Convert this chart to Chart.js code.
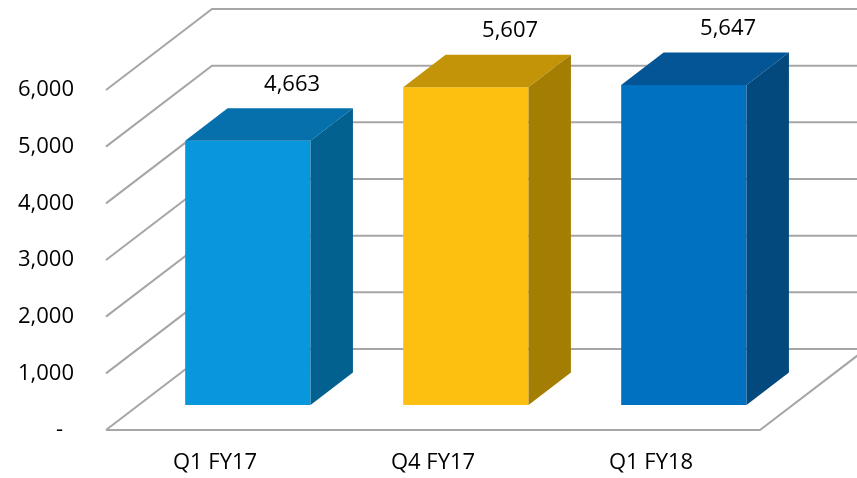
<!DOCTYPE html>
<html>
<head>
<meta charset="utf-8">
<title>Quarterly totals</title>
<script src="https://cdn.jsdelivr.net/npm/chart.js@4.4.1/dist/chart.umd.min.js"></script>
<style>
  html, body { margin: 0; padding: 0; background: #fff; }
  #wrap { width: 857px; height: 478px; position: relative; }
</style>
</head>
<body>
<div id="wrap"><canvas id="myChart"></canvas></div>
<script>
const quarters = ["Q1 FY17", "Q4 FY17", "Q1 FY18"];
const totals = [4663, 5607, 5647];
const yTicks = [0, 1000, 2000, 3000, 4000, 5000, 6000];
const yTickLabels = ["-", "1,000", "2,000", "3,000", "4,000", "5,000", "6,000"];

const frontColors = ["#0896DC", "#FDC010", "#0070C0"];
const topColors = ["#0670AC", "#C39308", "#035596"];
const sideColors = ["#02618F", "#A47E03", "#03497E"];

// depth of the floor / back wall, and where the boxes sit inside it
const depthX = 106;
const depthY = 81;
const barFront = 0.31;
const barDepth = 0.40;
const gridColor = "#A6A6A6";
const textFont = { family: "'Open Sans', sans-serif", size: 22 };

const poly = (ctx, pts, color) => {
    ctx.beginPath();
    ctx.moveTo(pts[0][0], pts[0][1]);
    for (let k = 1; k < pts.length; k++) ctx.lineTo(pts[k][0], pts[k][1]);
    ctx.closePath();
    ctx.fillStyle = color;
    ctx.fill();
};

const box3d = {
    id: "box3d",
    beforeDatasetsDraw(chart) {
        const ctx = chart.ctx;
        const area = chart.chartArea;
        const yScale = chart.scales.y;

        // floor, left wall and back wall lines
        ctx.save();
        ctx.strokeStyle = gridColor;
        ctx.lineWidth = 2;
        ctx.beginPath();
        yTicks.forEach((v) => {
            const py = yScale.getPixelForValue(v);
            ctx.moveTo(area.left, py);
            ctx.lineTo(area.left + depthX, py - depthY);
            ctx.lineTo(area.right + depthX, py - depthY);
        });
        const py0 = yScale.getPixelForValue(0);
        ctx.moveTo(area.left, py0);
        ctx.lineTo(area.right, py0);
        ctx.lineTo(area.right + depthX, py0 - depthY);
        ctx.stroke();
        ctx.restore();

        // front faces are drawn pushed back into the floor
        ctx.save();
        ctx.translate(depthX * barFront, -depthY * barFront);
    },
    afterDatasetsDraw(chart) {
        const ctx = chart.ctx;
        const bx = depthX * barDepth;
        const by = depthY * barDepth;
        chart.getDatasetMeta(0).data.forEach((bar, i) => {
            const l = bar.x - bar.width / 2;
            const r = bar.x + bar.width / 2;
            const t = bar.y;
            const b = bar.base;
            poly(ctx, [[l, t], [r, t], [r + bx, t - by], [l + bx, t - by]], topColors[i]);
            poly(ctx, [[r, t], [r + bx, t - by], [r + bx, b - by], [r, b]], sideColors[i]);

            ctx.fillStyle = "#000";
            ctx.font = textFont.size + "px " + textFont.family;
            ctx.textAlign = "center";
            ctx.textBaseline = "middle";
            ctx.fillText(totals[i].toLocaleString("en-US"), bar.x + bx / 2 + 23, t - by / 2 - 40);
        });
        ctx.restore();
    }
};

const ctx = document.getElementById("myChart").getContext("2d");

const myChart = new Chart(ctx, {
    type: "bar",
    data: {
        labels: quarters,
        datasets: [{
            data: totals,
            backgroundColor: frontColors,
            borderWidth: 0,
            categoryPercentage: 1,
            barPercentage: 0.575,
            clip: false
        }]
    },
    options: {
        responsive: true,
        maintainAspectRatio: false,
        devicePixelRatio: 1,
        animation: false,
        layout: { padding: { top: 90, right: 97, left: 0, bottom: 0 } },
        plugins: {
            legend: { display: false },
            tooltip: { enabled: false }
        },
        scales: {
            x: {
                grid: { display: false, drawTicks: false },
                border: { display: false },
                ticks: { color: "#000", font: textFont, padding: 20, maxRotation: 0 },
                afterFit: (scale) => { scale.height = 48; }
            },
            y: {
                min: 0,
                max: 6000,
                grid: { display: false, drawTicks: false },
                border: { display: false },
                ticks: {
                    stepSize: 1000,
                    color: "#000",
                    font: textFont,
                    padding: 32,
                    callback: (v, i) => yTickLabels[i] === "-" ? "-\u2002" : yTickLabels[i]
                },
                afterFit: (scale) => { scale.width = 106; }
            }
        }
    },
    plugins: [box3d]
});
</script>
</body>
</html>
